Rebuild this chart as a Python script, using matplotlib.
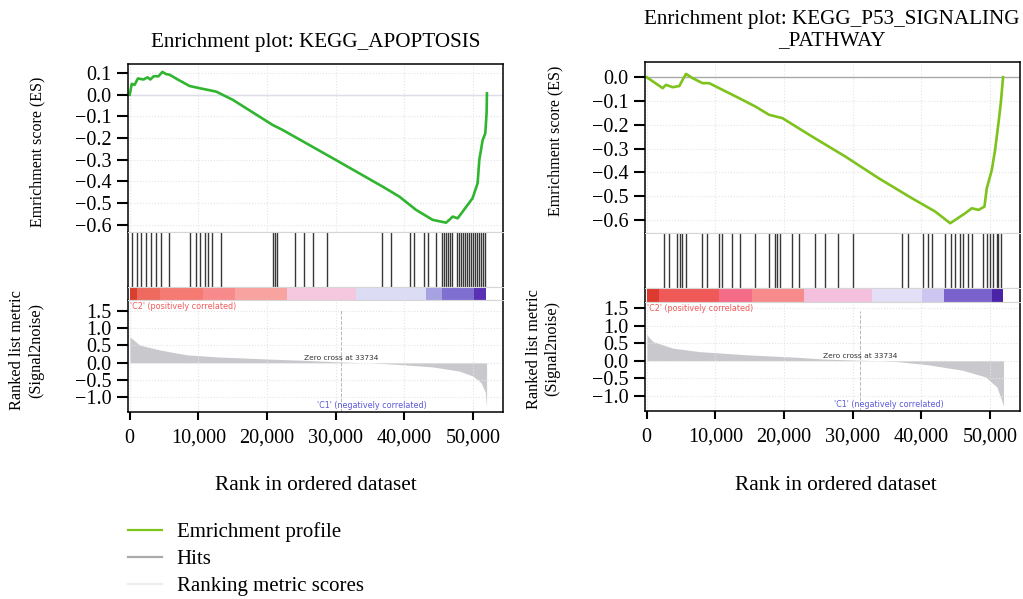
import numpy as np
import matplotlib.pyplot as plt
from matplotlib.lines import Line2D
from matplotlib.ticker import FuncFormatter

plt.rcParams['font.family'] = ['Liberation Serif', 'DejaVu Serif']

# ---------------- data: KEGG_APOPTOSIS ----------------
apo_es_rank = [0, 300, 700, 1200, 2000, 2600, 3000, 3500, 4200, 4760, 5300, 5820, 7000, 8730,
               10190, 12620, 15040, 20860, 22310, 29600, 36870, 39300, 41730, 44150, 46100,
               46580, 47060, 47790, 48520, 49970, 50700, 50950, 51430, 51820, 52010, 52060]
apo_es = [0.0, 0.05, 0.045, 0.075, 0.07, 0.08, 0.07, 0.085, 0.085, 0.105, 0.095, 0.092, 0.07,
          0.04, 0.03, 0.014, -0.024, -0.14, -0.163, -0.293, -0.424, -0.47, -0.531, -0.577,
          -0.59, -0.577, -0.562, -0.57, -0.539, -0.477, -0.408, -0.30, -0.21, -0.178, -0.085, 0.006]
apo_metric_rank = [0, 1460, 4370, 8250, 12620, 19900, 25470, 30000, 33734,
                   34930, 39300, 44150, 48030, 49970, 51190, 51820, 52010]
apo_metric = [0.75, 0.51, 0.37, 0.23, 0.17, 0.11, 0.07, 0.03, 0.0,
              0.0, -0.05, -0.12, -0.24, -0.38, -0.57, -0.85, -1.28]
apo_hits = [335, 1120, 1600, 2430, 3060, 3890, 4510, 5720, 8840, 9710, 10190, 10920, 11400,
            11980, 13350, 20950, 21200, 21450, 24160, 25470, 26640, 28780, 36780, 38090, 40900,
            41480, 42840, 43420, 44640, 45560, 45850, 46140, 46430, 46720, 47010, 47740, 48030,
            48330, 48620, 48910, 49200, 49490, 49780, 50070, 50360, 50650, 50950, 51240, 51530,
            51820]
apo_bar_edges = [0, 1000, 4370, 10630, 15290, 22850, 33040, 43230, 45560, 50220, 51970]
apo_bar_colors = ['#d8402e', '#ef6a5e', '#f57a72', '#f88a8c', '#f9a3a0', '#f6c8df',
                  '#dcdcf5', '#a7a3e3', '#7f6fd1', '#5a30b5']

# ---------------- data: KEGG_P53_SIGNALING_PATHWAY ----------------
p53_es_rank = [0, 2330, 2810, 3780, 4750, 5230, 5720, 6690, 8140, 9110, 10560, 13470, 15890,
               17830, 19770, 24130, 28970, 33820, 38660, 42050, 44230, 44960, 46410, 47380,
               48350, 49220, 49560, 50290, 50770, 51260, 51600, 51930]
p53_es = [0.0, -0.046, -0.032, -0.042, -0.037, -0.011, 0.014, -0.004, -0.025, -0.025, -0.046,
          -0.088, -0.124, -0.158, -0.172, -0.25, -0.334, -0.425, -0.509, -0.565, -0.614, -0.60,
          -0.572, -0.551, -0.558, -0.544, -0.467, -0.39, -0.306, -0.193, -0.109, 0.0]
p53_metric_rank = [0, 870, 3780, 7660, 14440, 21700, 25580, 30000, 33734,
                   36230, 41090, 45930, 49320, 51020, 51740, 51990]
p53_metric = [0.75, 0.55, 0.36, 0.26, 0.17, 0.10, 0.05, 0.02, 0.0,
              -0.02, -0.12, -0.27, -0.46, -0.75, -1.14, -1.3]
p53_hits = [2510, 3240, 4460, 4840, 5190, 5670, 7990, 8820, 10510, 10900, 12460, 13660, 15840,
            17780, 18650, 19000, 19380, 21180, 22140, 24560, 26020, 27810, 30130, 37250, 38040,
            40220, 41030, 41610, 43460, 44330, 44910, 45640, 46120, 46760, 47340, 49030, 49520,
            50000, 50480, 50980, 51210, 51700]
p53_bar_edges = [0, 1840, 10560, 15410, 22920, 32850, 40120, 43270, 50290, 51990]
p53_bar_colors = ['#dc3a2e', '#ef5a58', '#f46c88', '#f78b8b', '#f5c0de', '#e2dff7',
                  '#cdc6f0', '#7a62cc', '#4a24a6']

x_ticks = [0, 10000, 20000, 30000, 40000, 50000]
es_ticks_apo = [0.1, 0.0, -0.1, -0.2, -0.3, -0.4, -0.5, -0.6]
es_ticks_p53 = [0.0, -0.1, -0.2, -0.3, -0.4, -0.5, -0.6]
metric_ticks = [1.5, 1.0, 0.5, 0.0, -0.5, -1.0]

W, H = 1023, 599
fig = plt.figure(figsize=(W / 100, H / 100), dpi=100)


def rect(x0, x1, y0, y1):
    return [x0 / W, 1 - y1 / H, (x1 - x0) / W, (y1 - y0) / H]


def panel(x0, x1, rows, es_rank, es, es_ticks, es_lim, line_color, zero_color,
          m_rank, m_val, m_lim, hits, edges, colors, cross_mark):
    xlim = (-250, 54400)
    grid_kw = dict(color='#e4e4e4', ls=':', lw=0.8)
    edge = '#d6d6d6'

    ax1 = fig.add_axes(rect(x0, x1, rows[0], rows[1]))
    ax2 = fig.add_axes(rect(x0, x1, rows[1], rows[2]))
    ax3 = fig.add_axes(rect(x0, x1, rows[2], rows[3]))
    ax4 = fig.add_axes(rect(x0, x1, rows[3], rows[4]))

    for ax in (ax1, ax2, ax3, ax4):
        ax.set_xlim(*xlim)
        ax.set_xticks(x_ticks)
        for s in ax.spines.values():
            s.set_linewidth(1.1)
        ax.spines['left'].set_color('black')
        ax.spines['right'].set_color('black')
        ax.spines['top'].set_color(edge)
        ax.spines['bottom'].set_color(edge)
        ax.spines['top'].set_linewidth(0.8)
        ax.spines['bottom'].set_linewidth(0.8)
    for ax in (ax1, ax2, ax3):
        ax.tick_params(axis='x', length=0, labelbottom=False)
    ax1.spines['top'].set_color('black')
    ax1.spines['top'].set_linewidth(1.1)
    ax4.spines['bottom'].set_color('black')
    ax4.spines['bottom'].set_linewidth(1.1)

    # enrichment score
    ax1.axhline(0, color=zero_color, lw=1.0)
    ax1.plot(es_rank, es, color=line_color, lw=1.9)
    ax1.set_ylim(*es_lim)
    ax1.set_yticks(es_ticks)
    ax1.grid(True, **grid_kw)
    ax1.tick_params(axis='y', length=8, width=1.5, labelsize=14.5, pad=4)

    # hits
    ax2.vlines(hits, 0, 1, color='#383838', lw=1.0)
    ax2.set_ylim(0, 1)
    ax2.set_yticks([])

    # ranking colour bar
    ax3.bar(edges[:-1], 1, width=np.diff(edges), align='edge', color=colors, lw=0)
    ax3.set_ylim(0, 1)
    ax3.set_yticks([])

    # ranked list metric
    ax4.fill_between(m_rank, m_val, 0, color='#c9c9cd', lw=0)
    ax4.axvline(cross_mark, color='#b8b8b8', ls='--', lw=0.7, ymax=0.92)
    ax4.set_ylim(*m_lim)
    ax4.set_yticks(metric_ticks)
    ax4.grid(True, **grid_kw)
    ax4.tick_params(axis='y', length=8, width=1.5, labelsize=14.5, pad=4)
    ax4.tick_params(axis='x', length=6, width=1.5, labelsize=14.5, pad=6)
    ax4.xaxis.set_major_formatter(FuncFormatter(lambda v, p: f'{v:,.0f}'))
    ax4.text(0.006, 0.985, "'C2' (positively correlated)", transform=ax4.transAxes,
             ha='left', va='top', fontsize=5.8, color='#f05a5a', family='DejaVu Sans')
    ax4.text(cross_mark, 0.05, 'Zero cross at 33734', ha='center', va='bottom',
             fontsize=5.4, color='#333333', family='DejaVu Sans')
    ax4.text(35300, m_lim[0] + 0.06, "'C1' (negatively correlated)", ha='center',
             va='bottom', fontsize=5.8, color='#5a5ad8', family='DejaVu Sans')
    return ax1, ax4


panel(128, 503, [64, 232, 287, 300, 412], apo_es_rank, apo_es, es_ticks_apo, (-0.633, 0.1415),
      '#2fb52f', '#dcdcea', apo_metric_rank, apo_metric, (-1.42, 1.81), apo_hits,
      apo_bar_edges, apo_bar_colors, 30800)
panel(645, 1020, [62, 233, 288, 302, 411], p53_es_rank, p53_es, es_ticks_p53, (-0.655, 0.064),
      '#7ec21c', '#aaaaaa', p53_metric_rank, p53_metric, (-1.44, 1.68), p53_hits,
      p53_bar_edges, p53_bar_colors, 31100)

# titles and axis labels
fig.text(316 / W, 1 - 43 / H, 'Enrichment plot: KEGG_APOPTOSIS', ha='center', va='center', fontsize=15.2)
fig.text(832 / W, 1 - 30 / H, 'Enrichment plot: KEGG_P53_SIGNALING\n_PATHWAY', ha='center',
         va='center', fontsize=15.2, linespacing=1.2)
for cx, ey, ex, ry, rx in [(316, 152, 37, 350, 27), (836, 141, 555, 349, 543)]:
    fig.text(ex / W, 1 - ey / H, 'Emrichment score (ES)', rotation=90, ha='center', va='center', fontsize=11.5)
    fig.text(rx / W, 1 - ry / H, 'Ranked list metric\n(Signal2noise)', rotation=90, ha='center',
             va='center', fontsize=11.7, linespacing=1.25)
    fig.text(cx / W, 1 - 486 / H, 'Rank in ordered dataset', ha='center', va='center', fontsize=15.3)

handles = [Line2D([], [], color='#7fc31c', lw=1.6),
           Line2D([], [], color='#aaaaaa', lw=1.6),
           Line2D([], [], color='#eeeeee', lw=1.6)]
fig.legend(handles, ['Emrichment profile', 'Hits', 'Ranking metric scores'],
           loc='upper left', bbox_to_anchor=(128 / W, 1 - 522 / H), frameon=False, fontsize=15,
           handlelength=1.65, handletextpad=0.68, labelspacing=0.36, borderpad=0, borderaxespad=0)

fig.savefig('out.png', dpi=100)
